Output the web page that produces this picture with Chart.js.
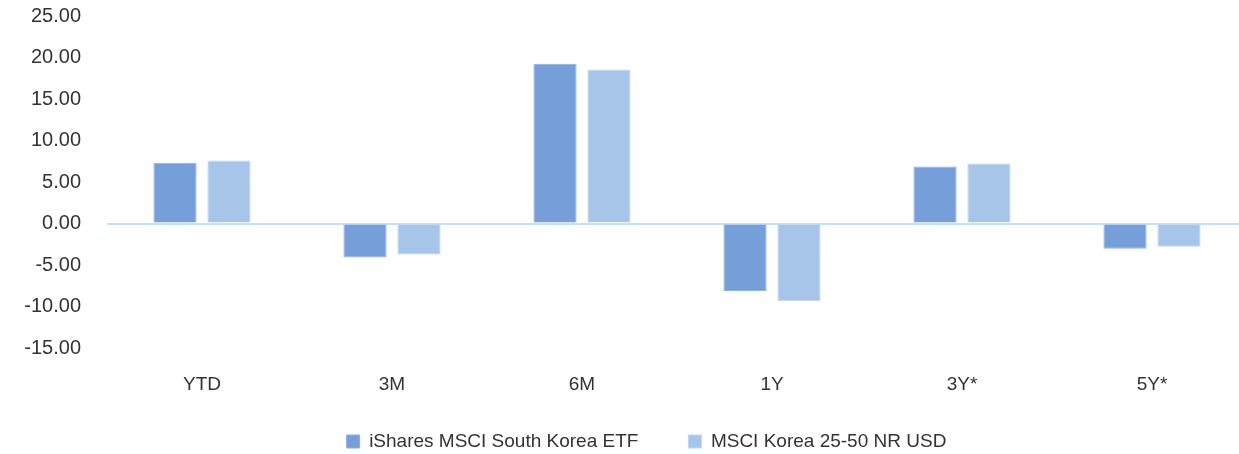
<!DOCTYPE html>
<html>
<head>
<meta charset="utf-8">
<script src="https://cdn.jsdelivr.net/npm/chart.js@4.4.1/dist/chart.umd.min.js"></script>
<style>
  html, body { margin: 0; padding: 0; background: #fff; overflow: hidden; }
  #wrap { width: 1247px; height: 454px; }
</style>
</head>
<body>
<div id="wrap"><canvas id="perf-chart"></canvas></div>
<script>
// ============================================================
// DATA
// ============================================================
const periods = ["YTD", "3M", "6M", "1Y", "3Y*", "5Y*"];
const etfReturns = [7.32, -4.1, 19.26, -8.12, 6.88, -3.05];
const indexReturns = [7.6, -3.74, 18.54, -9.37, 7.24, -2.81];
const seriesNames = ["iShares MSCI South Korea ETF", "MSCI Korea 25-50 NR USD"];
const yMin = -15, yMax = 25, yStep = 5;

const TEXT = "#333333";
const FONT = "'Liberation Sans', Arial, sans-serif";

// legend: fixed height, and placed a bit right of canvas centre like the original
const LEGEND_H = 58;
const legendPlace = {
  id: "legendPlace",
  beforeLayout(chart) {
    const lg = chart.legend;
    if (!lg || lg._fitWrapped) return;
    const fit = lg.fit.bind(lg);
    lg.fit = function () {
      fit();
      this.height = LEGEND_H;
    };
    lg._fitWrapped = true;
  },
  afterLayout(chart) {
    const lg = chart.legend;
    if (!lg) return;
    const dx = 23, dy = 382 - lg.top;
    lg.left += dx; lg.right += dx;
    lg.top += dy;
    lg.bottom = chart.height;
    lg.height = lg.bottom - lg.top;
    if (lg.legendHitBoxes) lg.legendHitBoxes.forEach((b) => { b.left += dx; b.top += dy; });
  },
};

const ctx = document.getElementById("perf-chart").getContext("2d");
new Chart(ctx, {
  type: "bar",
  data: {
    labels: periods,
    datasets: [
      {
        label: seriesNames[0],
        data: etfReturns,
        backgroundColor: "rgb(118,158,216)",
        borderColor: "rgb(140,176,226)",
        borderWidth: 1,
        categoryPercentage: 0.568,
        barPercentage: 0.8,
      },
      {
        label: seriesNames[1],
        data: indexReturns,
        backgroundColor: "rgb(166,197,233)",
        borderColor: "rgb(190,214,242)",
        borderWidth: 1,
        categoryPercentage: 0.568,
        barPercentage: 0.8,
      },
    ],
  },
  options: {
    responsive: true,
    maintainAspectRatio: false,
    animation: false,
    layout: { padding: { top: 16, right: 0, bottom: 0, left: 0 } },
    plugins: {
      tooltip: { enabled: false },
      legend: {
        position: "bottom",
        labels: {
          boxWidth: 13,
          boxHeight: 13,
          padding: 50,
          color: TEXT,
          font: { family: FONT, size: 19 },
        },
      },
    },
    scales: {
      x: {
        grid: { display: false },
        border: { display: false },
        ticks: { color: TEXT, font: { family: FONT, size: 19 }, padding: 17 },
        afterFit: (s) => { s.height = 48; },
      },
      y: {
        min: yMin,
        max: yMax,
        ticks: {
          stepSize: yStep,
          color: TEXT,
          padding: 26,
          font: { family: FONT, size: 20 },
          callback: (v) => Number(v).toFixed(2),
        },
        border: { display: false },
        grid: {
          color: (c) => (c.tick && c.tick.value === 0 ? "#c2e2fb" : "rgba(0,0,0,0)"),
          lineWidth: (c) => (c.tick && c.tick.value === 0 ? 2 : 0),
          drawTicks: false,
        },
        afterFit: (s) => {
          s.width = 107;
          s.paddingTop = 0;
          s.paddingBottom = 0;
        },
      },
    },
  },
  plugins: [legendPlace],
});
</script>
</body>
</html>
